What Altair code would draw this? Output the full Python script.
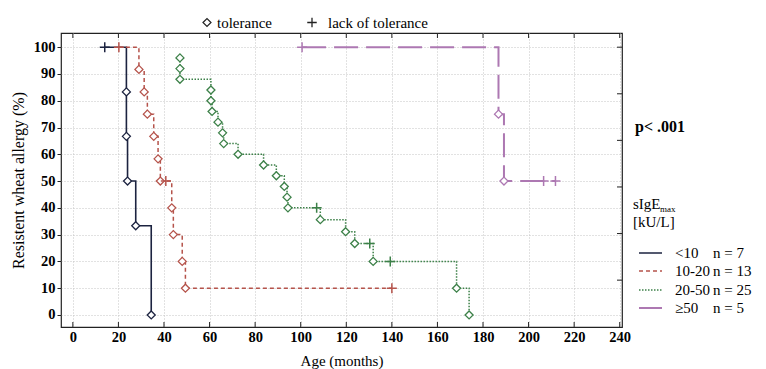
import altair as alt
import pandas as pd

# ---------------- data ----------------
x_ticks = [0, 20, 40, 60, 80, 100, 120, 140, 160, 180, 200, 220, 240]
y_ticks = [0, 10, 20, 30, 40, 50, 60, 70, 80, 90, 100]
right_ticks = [100, 82.6, 65.2, 47.8, 30.4, 13.0]

groups = ["<10", "10-20", "20-50", "≥50"]
group_n = ["n = 7", "n = 13", "n = 25", "n = 5"]

# kind: e = event (tolerance, diamond), c = censored (lack of tolerance, +)
lt10_t = [14.0, 23.5, 23.5, 24.0, 27.6, 34.4]
lt10_s = [100, 83.3, 66.7, 50.0, 33.3, 0.0]
lt10_k = ["c", "e", "e", "e", "e", "e"]

g1020_t = [20.2, 29.0, 31.3, 32.7, 35.5, 37.4, 38.4, 40.8, 43.4, 44.1, 48.0, 49.4, 140.0]
g1020_s = [100, 91.7, 83.3, 75.0, 66.7, 58.3, 50.0, 50.0, 40.0, 30.0, 20.0, 10.0, 10.0]
g1020_k = ["c", "e", "e", "e", "e", "e", "e", "c", "e", "e", "e", "e", "c"]

g2050_t = [47.0, 47.0, 47.0, 60.6, 60.6, 61.1, 63.7, 65.7, 66.2, 72.5, 83.7, 89.3,
           92.8, 94.0, 94.4, 107.0, 108.6, 119.7, 123.7, 130.3, 131.8, 139.3, 168.4, 173.9]
g2050_s = [96, 92, 88, 84, 80, 76, 72, 68, 64, 60, 56, 52,
           48, 44, 40, 40, 35.6, 31.1, 26.7, 26.7, 20.0, 20.0, 10.0, 0.0]
g2050_k = ["e"] * 15 + ["c", "e", "e", "e", "c", "e", "c", "e", "e"]

ge50_t = [100.6, 186.8, 189.2, 206.6, 211.8]
ge50_s = [100, 75.0, 50.0, 50.0, 50.0]
ge50_k = ["c", "e", "e", "c", "c"]

# ---------------- styles ----------------
SERIF = "Liberation Serif"
colors = ["#1c2340", "#b5534b", "#3c8048", "#ad78b2"]
dashes = [[1, 0], [4, 3], [1.5, 1.5], [24, 8]]
widths = [1.6, 1.5, 1.5, 2.0]

series = [(lt10_t, lt10_s, lt10_k), (g1020_t, g1020_s, g1020_k),
          (g2050_t, g2050_s, g2050_k), (ge50_t, ge50_s, ge50_k)]

rows = []
for g, (ts, ss, ks) in zip(groups, series):
    for i, (t, s, k) in enumerate(zip(ts, ss, ks)):
        rows.append({"g": g, "i": i, "t": t, "s": s, "k": k})
df = pd.DataFrame(rows)

W, H = 561, 294
xs = alt.Scale(domain=[-5.2, 241], nice=False, zero=False)
ys = alt.Scale(domain=[-4.5, 105.3], nice=False, zero=False)

grid = dict(grid=True, gridColor="#c4c4c4", gridDash=[1, 2], gridWidth=1)
xaxis = alt.Axis(values=x_ticks, title="Age (months)", titleFont=SERIF, titleFontSize=15,
                 titleFontWeight="normal", titleColor="black", titlePadding=10,
                 labelFont=SERIF, labelFontSize=14.5, labelFontWeight="bold", labelColor="black",
                 labelPadding=3, ticks=False, domain=False, labelFlush=False, **grid)
yaxis = alt.Axis(values=y_ticks, title="Resistent wheat allergy (%)", titleFont=SERIF,
                 titleFontSize=16, titleFontWeight="normal", titleColor="black", titlePadding=7,
                 labelFont=SERIF, labelFontSize=14.5, labelFontWeight="bold", labelColor="black",
                 labelPadding=2, ticks=True, tickSize=4, tickColor="#222", domain=False, **grid)


def X(f):
    return alt.X(f, type="quantitative", scale=xs, axis=xaxis)


def Y(f):
    return alt.Y(f, type="quantitative", scale=ys, axis=yaxis)


layers = []
for g, c, d, w in zip(groups, colors, dashes, widths):
    sub = df[df.g == g]
    layers.append(
        alt.Chart(sub).mark_line(interpolate="step-after", color=c, strokeDash=d, strokeWidth=w)
        .encode(x=X("t"), y=Y("s"), order=alt.Order("i:Q"))
    )
for g, c in zip(groups, colors):
    sub = df[df.g == g]
    layers.append(
        alt.Chart(sub[sub.k == "e"]).mark_point(shape="diamond", filled=True, fill="white",
                                                stroke=c, strokeWidth=1.3, size=64, opacity=1)
        .encode(x=X("t"), y=Y("s"))
    )
    layers.append(
        alt.Chart(sub[sub.k == "c"]).mark_point(shape="M-1,0L1,0M0,-1L0,1", filled=False,
                                                stroke=c, strokeWidth=1.5, size=100, opacity=1)
        .encode(x=X("t"), y=Y("s"))
    )

# inner ticks on top, bottom and right frame
xt = pd.DataFrame({"v": x_ticks})
rt = pd.DataFrame({"v": right_ticks})
layers.append(alt.Chart(xt).mark_rule(color="#222", strokeWidth=1)
              .encode(x=X("v"), y=alt.value(0), y2=alt.value(5)))
layers.append(alt.Chart(xt).mark_rule(color="#222", strokeWidth=1)
              .encode(x=X("v"), y=alt.value(H), y2=alt.value(H - 5)))
layers.append(alt.Chart(rt).mark_rule(color="#222", strokeWidth=1)
              .encode(y=Y("v"), x=alt.value(W), x2=alt.value(W - 5)))

one = pd.DataFrame({"a": [0]})


def txt(s, x, y, size=16, weight="normal", align="left"):
    return alt.Chart(one).mark_text(font=SERIF, fontSize=size, fontWeight=weight, align=align,
                                    baseline="middle", color="black").encode(
        x=alt.value(x), y=alt.value(y), text=alt.value(s))


# top legend
layers.append(alt.Chart(one).mark_point(shape="diamond", filled=True, fill="white", stroke="#222",
                                        strokeWidth=1.2, size=64, opacity=1)
              .encode(x=alt.value(146), y=alt.value(-10.5)))
layers.append(txt("tolerance", 156, -10.5, size=15))
layers.append(alt.Chart(one).mark_point(shape="M-1,0L1,0M0,-1L0,1", filled=False, stroke="#222",
                                        strokeWidth=1.3, size=90, opacity=1)
              .encode(x=alt.value(251), y=alt.value(-10.5)))
layers.append(txt("lack of tolerance", 267, -10.5, size=15))

# right annotations
layers.append(txt("p< .001", 574, 94, size=16, weight="bold"))
layers.append(txt("sIgE", 572, 171, size=15))
layers.append(txt("max", 599, 176, size=9))
layers.append(txt("[kU/L]", 572, 189, size=15))
row_y = [220, 238, 257, 275]
for g, n, c, d, w, yy in zip(groups, group_n, colors, dashes, widths, row_y):
    layers.append(alt.Chart(one).mark_rule(color=c, strokeDash=d, strokeWidth=w)
                  .encode(x=alt.value(578), x2=alt.value(601), y=alt.value(yy)))
    layers.append(txt(g, 614, yy, size=15))
    layers.append(txt(n, 652, yy, size=15))

chart = alt.layer(*layers).properties(
    width=W, height=H,
    autosize=alt.AutoSizeParams(type="none"),
    padding={"left": 53, "top": 25, "right": 136, "bottom": 42},
    background="white",
).configure_view(stroke="#222", strokeWidth=1.2)

chart.save("out.html", embed_options={"renderer": "svg", "actions": False})
